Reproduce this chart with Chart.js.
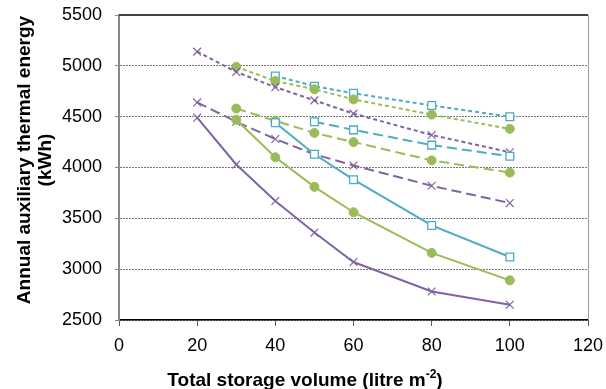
<!DOCTYPE html>
<html>
<head>
<meta charset="utf-8">
<script src="https://cdn.jsdelivr.net/npm/chart.js@4.4.1/dist/chart.umd.min.js"></script>
<style>
  body { margin: 0; background: #fff; }
  #wrap { width: 606px; height: 389px; }
</style>
</head>
<body>
<div id="wrap"><canvas id="storageChart" width="606" height="389"></canvas></div>
<script>
// storage volumes (litre m-2) for each group of runs
const volPurple = [20, 30, 40, 50, 60, 80, 100];
const volGreen = [30, 40, 50, 60, 80, 100];
const volCyan = [40, 50, 60, 80, 100];
const volCyanLong = [50, 60, 80, 100];

// annual auxiliary thermal energy (kWh)
const purpleSolid = [4490, 4030, 3670, 3360, 3070, 2780, 2650];
const greenSolid = [4470, 4100, 3810, 3560, 3160, 2890];
const cyanSolid = [4440, 4130, 3880, 3430, 3120];
const purpleLong = [4640, 4450, 4280, 4130, 4020, 3820, 3650];
const greenLong = [4580, 4460, 4340, 4250, 4070, 3950];
const cyanLong = [4450, 4370, 4220, 4110];
const purpleShort = [5140, 4940, 4790, 4660, 4530, 4320, 4150];
const greenShort = [4990, 4850, 4770, 4670, 4520, 4380];
const cyanShort = [4900, 4800, 4730, 4610, 4500];

const xTicks = [0, 20, 40, 60, 80, 100, 120];
const yTicks = [2500, 3000, 3500, 4000, 4500, 5000, 5500];

const PURPLE = '#8064A2';
const GREEN = '#9BBB59';
const CYAN = '#4BACC6';
const FONT = '"Liberation Sans", Arial, sans-serif';

function pairs(xs, ys) {
    return xs.map((x, i) => ({ x: x, y: ys[i] }));
}

function series(xs, ys, color, kind, dash) {
    let ds = {
        data: pairs(xs, ys),
        borderColor: color,
        borderWidth: 2,
        borderDash: dash,
        fill: false,
        tension: 0,
        pointBorderColor: color
    };
    if (kind === 'cross') {
        ds.pointStyle = 'crossRot';
        ds.pointRadius = 5.5;
        ds.pointBorderWidth = 1.2;
    } else if (kind === 'circle') {
        ds.pointStyle = 'circle';
        ds.pointRadius = 4.5;
        ds.pointBackgroundColor = color;
        ds.pointBorderWidth = 1;
    } else {
        ds.pointStyle = 'rect';
        ds.pointRadius = 5.5;
        ds.pointBackgroundColor = '#fff';
        ds.pointBorderWidth = 1.3;
    }
    return ds;
}

const LONG = [10, 5];
const SHORT = [4, 3];

// frame lines and axis titles
const framePlugin = {
    id: 'frame',
    afterDatasetsDraw(chart) {
        const ctx = chart.ctx;
        const a = chart.chartArea;
        ctx.save();
        ctx.strokeStyle = '#444';
        ctx.lineWidth = 2;
        ctx.beginPath();
        ctx.moveTo(a.left, a.top);
        ctx.lineTo(a.right, a.top);
        ctx.stroke();
        ctx.strokeStyle = '#999';
        ctx.lineWidth = 1;
        ctx.beginPath();
        ctx.moveTo(a.right + 0.5, a.top);
        ctx.lineTo(a.right + 0.5, a.bottom);
        ctx.stroke();

        // x title with superscript
        ctx.fillStyle = '#000';
        ctx.textBaseline = 'alphabetic';
        const big = 'bold 19px ' + FONT;
        const small = 'bold 12px ' + FONT;
        const p1 = 'Total storage volume (litre m';
        const sup = '-2';
        const p2 = ')';
        ctx.font = big;
        const w1 = ctx.measureText(p1).width;
        const w3 = ctx.measureText(p2).width;
        ctx.font = small;
        const w2 = ctx.measureText(sup).width;
        let x = 305 - (w1 + w2 + w3) / 2;
        const base = 386;
        ctx.font = big;
        ctx.fillText(p1, x, base);
        ctx.font = small;
        ctx.fillText(sup, x + w1, base - 8);
        ctx.font = big;
        ctx.fillText(p2, x + w1 + w2, base);

        // y title, two rotated lines
        ctx.textAlign = 'center';
        ctx.textBaseline = 'middle';
        ctx.translate(25, 160);
        ctx.rotate(-Math.PI / 2);
        ctx.fillText('Annual auxiliary thermal energy', 0, 0);
        ctx.fillText('(kWh)', 0, 21);
        ctx.restore();
    }
};

const ctx = document.getElementById('storageChart').getContext('2d');
new Chart(ctx, {
    type: 'line',
    data: {
        datasets: [
            series(volPurple, purpleSolid, PURPLE, 'cross', []),
            series(volGreen, greenSolid, GREEN, 'circle', []),
            series(volCyan, cyanSolid, CYAN, 'rect', []),
            series(volPurple, purpleLong, PURPLE, 'cross', LONG),
            series(volGreen, greenLong, GREEN, 'circle', LONG),
            series(volCyanLong, cyanLong, CYAN, 'rect', LONG),
            series(volPurple, purpleShort, PURPLE, 'cross', SHORT),
            series(volGreen, greenShort, GREEN, 'circle', SHORT),
            series(volCyan, cyanShort, CYAN, 'rect', SHORT)
        ]
    },
    options: {
        responsive: false,
        animation: false,
        layout: { padding: { top: 15, right: 18, left: 0, bottom: 0 } },
        plugins: { legend: { display: false }, tooltip: { enabled: false } },
        scales: {
            x: {
                type: 'linear',
                min: 0,
                max: 120,
                afterBuildTicks: s => { s.ticks = xTicks.map(v => ({ value: v })); },
                afterFit: s => {
                    s.height = 69;
                    s.paddingLeft = 0;
                    s.paddingRight = 0;
                },
                ticks: {
                    color: '#000',
                    font: { family: FONT, size: 18 },
                    padding: 9,
                    maxRotation: 0,
                    callback: v => String(v)
                },
                grid: {
                    drawOnChartArea: false,
                    drawTicks: true,
                    tickLength: 6,
                    color: '#555'
                },
                border: { color: '#000', width: 1.5 }
            },
            y: {
                min: 2500,
                max: 5500,
                afterBuildTicks: s => { s.ticks = yTicks.map(v => ({ value: v })); },
                afterFit: s => {
                    s.width = 119;
                    s.paddingTop = 0;
                    s.paddingBottom = 0;
                },
                ticks: {
                    color: '#000',
                    font: { family: FONT, size: 18 },
                    padding: 13,
                    callback: v => String(v)
                },
                grid: {
                    color: '#777',
                    lineWidth: 1,
                    tickLength: 4,
                    tickColor: '#888'
                },
                border: { color: '#888', width: 2, dash: [2, 1] }
            }
        }
    },
    plugins: [framePlugin]
});
</script>
</body>
</html>
